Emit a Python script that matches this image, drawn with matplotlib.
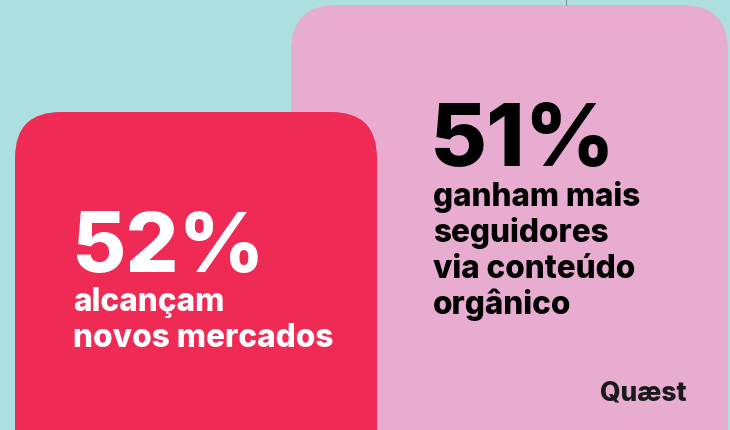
import matplotlib.pyplot as plt
from matplotlib.patches import FancyBboxPatch

plt.rcParams['font.family'] = ['Inter', 'DejaVu Sans']

# stats shown on the two cards
percents = ['52%', '51%']
captions = [['alcançam', 'novos mercados'],
            ['ganham mais', 'seguidores', 'via conteúdo', 'orgânico']]
brand = 'Quæst'

bg = '#addee0'
pink = '#e8acd0'
red = '#ee2a55'

W, H = 730, 431
fig = plt.figure(figsize=(W / 100, H / 100), dpi=100)
ax = fig.add_axes([0, 0, 1, 1])
ax.set_xlim(0, W)
ax.set_ylim(H, 0)
ax.axis('off')
fig.patch.set_facecolor(bg)

# back card (pink) and front card (red)
ax.add_patch(FancyBboxPatch((291, 6), 437, 520, boxstyle='round,pad=0,rounding_size=46',
                            fc=pink, ec='none'))
ax.plot([566, 566], [0, 6], color='#7a9a9c', lw=0.8)
ax.add_patch(FancyBboxPatch((15, 113), 362, 420, boxstyle='round,pad=0,rounding_size=46',
                            fc=red, ec='none'))

# red card text
ax.text(71, 272, percents[0], color='white', fontsize=60, fontweight='heavy',
        va='baseline', ha='left')
for i, ln in enumerate(captions[0]):
    ax.text(73, 311 + i * 36, ln, color='white', fontsize=22.8, fontweight='heavy',
            va='baseline', ha='left')

# pink card text
ax.text(430, 166, percents[1], color='black', fontsize=63, fontweight='heavy',
        va='baseline', ha='left')
for i, ln in enumerate(captions[1]):
    ax.text(433, 206 + i * 36, ln, color='black', fontsize=22.7, fontweight='heavy',
            va='baseline', ha='left')

ax.text(600, 401, brand, color='#1a1a1a', fontsize=19, fontweight='heavy',
        va='baseline', ha='left')

fig.savefig('out.png', dpi=100, facecolor=bg)
